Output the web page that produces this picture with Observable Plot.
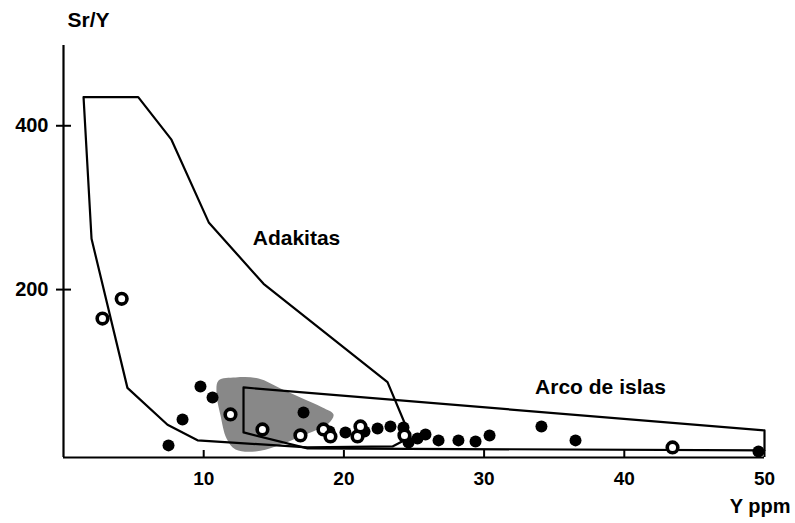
<!DOCTYPE html>
<html><head><meta charset="utf-8">
<script src="https://cdn.jsdelivr.net/npm/d3@7"></script>
<script src="https://cdn.jsdelivr.net/npm/@observablehq/plot@0.6"></script>
<style>body{margin:0;background:#fff;}</style>
</head><body><div id="chart"></div>
<script>
const xTicks = [10, 20, 30, 40, 50];
const yTicks = [200, 400];

// Adakitas field (Y ppm, Sr/Y)
const adakitasX = [1.43, 5.33, 7.70, 10.36, 14.27, 23.11, 24.75, 23.47, 17.40, 9.56, 7.42, 4.56, 2.0];
const adakitasY = [435, 435, 383, 282, 207, 87, 20, 8.5, 7.3, 16, 35, 80, 262];

// Arco de islas field
const arcoX = [12.84, 50, 50, 17.40, 12.84];
const arcoY = [80.5, 28, 3.7, 6.1, 25.6];

// Gray shaded field
const blobX = [11.06, 12.27, 13.91, 15.48, 16.90, 18.47, 19.26, 18.90, 16.90, 15.12, 13.69, 12.27, 11.63, 11.20, 10.91];
const blobY = [89, 92.7, 91.5, 79.3, 68.3, 56.1, 47.6, 36.6, 20.7, 8.5, 2.4, 4.9, 18.3, 46.3, 74.4];

// Filled circles
const filledX = [7.49, 8.49, 9.77, 10.63, 17.12, 18.97, 20.11, 21.47, 22.40, 23.32, 24.25, 24.61, 25.25, 25.82, 26.75, 28.17, 29.39, 30.39, 34.09, 36.52, 49.57];
const filledY = [9.8, 41.5, 81.7, 68.3, 50, 26.8, 25.6, 26.8, 30.5, 32.9, 31.7, 13.4, 18.3, 23.2, 15.9, 15.9, 14.6, 22, 32.9, 15.9, 2.4];

// Open circles
const openX = [2.78, 4.15, 11.91, 14.19, 16.90, 18.54, 19.04, 20.97, 21.18, 24.32, 43.44];
const openY = [164.6, 188.7, 47.6, 29.3, 22, 29.3, 20.7, 20.7, 32.9, 22, 7.3];

const labelText = ["Adakitas", "Arco de islas"];
const labelX = [16.62, 38.3];
const labelY = [263, 80.5];

const zip = (xs, ys) => xs.map((x, i) => ({x, y: ys[i]}));
const ada = zip(adakitasX, adakitasY);
const arco = zip(arcoX, arcoY);
const blob = zip(blobX, blobY);
const filled = zip(filledX, filledY);
const open = zip(openX, openY);
const labels = labelText.map((t, i) => ({t, x: labelX[i], y: labelY[i]}));

const chart = Plot.plot({
  width: 795, height: 523,
  marginLeft: 63, marginRight: 31, marginTop: 45, marginBottom: 66,
  style: {fontFamily: "'Liberation Sans', Arial, sans-serif", color: "black", background: "white"},
  x: {domain: [0, 50]},
  y: {domain: [-5, 498]},
  marks: [
    Plot.line(blob, {x: "x", y: "y", curve: "catmull-rom-closed", fill: "#888888", stroke: "none"}),
    Plot.line(ada, {x: "x", y: "y", curve: "linear-closed", stroke: "black", strokeWidth: 2.2}),
    Plot.line(arco, {x: "x", y: "y", curve: "linear-closed", stroke: "black", strokeWidth: 2.2}),
    Plot.ruleX([0], {strokeWidth: 2.2}),
    Plot.ruleY([-5], {strokeWidth: 2.2}),
    Plot.axisX({ticks: xTicks, tickSize: 7, dy: -7, tickPadding: 14, fontSize: 19, fontWeight: "bold", label: null, strokeWidth: 2}),
    Plot.axisY({ticks: yTicks, tickSize: 15, dx: 8, tickPadding: 8, fontSize: 20, fontWeight: "bold", label: null, strokeWidth: 2}),
    Plot.dot(filled, {x: "x", y: "y", r: 6, fill: "black"}),
    Plot.dot(open, {x: "x", y: "y", r: 5.3, fill: "white", stroke: "black", strokeWidth: 3.6}),
    Plot.text(labels, {x: "x", y: "y", text: "t", fontSize: 21, fontWeight: "bold"}),
    Plot.text(["Sr/Y"], {frameAnchor: "top-left", dx: 4, dy: -25, lineAnchor: "middle", fontSize: 21, fontWeight: "bold"}),
    Plot.text(["Y ppm"], {frameAnchor: "bottom-right", dx: 26, dy: 49, lineAnchor: "middle", textAnchor: "end", fontSize: 20, fontWeight: "bold"})
  ]
});
document.getElementById("chart").appendChild(chart);
</script>
</body></html>
